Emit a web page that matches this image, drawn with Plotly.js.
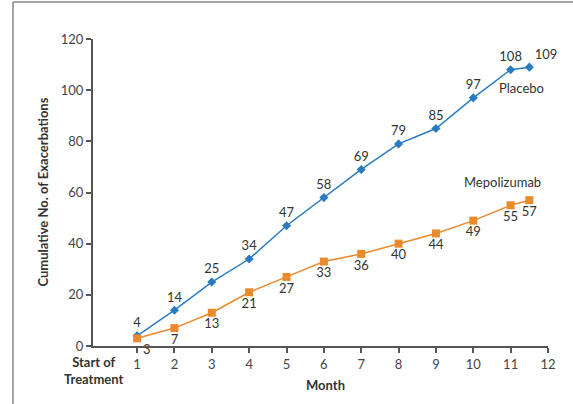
<!DOCTYPE html>
<html>
<head>
<meta charset="utf-8">
<script src="https://cdn.plot.ly/plotly-3.0.1.min.js"></script>
<style>html,body{margin:0;padding:0;background:#fff;}#chart{width:573px;height:404px;}</style>
</head>
<body>
<div id="chart"></div>
<script>
const placeboMonths = [1, 2, 3, 4, 5, 6, 7, 8, 9, 10, 11, 11.5];
const placeboValues = [4, 14, 25, 34, 47, 58, 69, 79, 85, 97, 108, 109];
const mepoMonths = [1, 2, 3, 4, 5, 6, 7, 8, 9, 10, 11, 11.5];
const mepoValues = [3, 7, 13, 21, 27, 33, 36, 40, 44, 49, 55, 57];
const xTicks = [1, 2, 3, 4, 5, 6, 7, 8, 9, 10, 11, 12];
const yTicks = [0, 20, 40, 60, 80, 100, 120];

const FONT = "Lato, Open Sans, Liberation Sans, Arial, sans-serif";
const blue = "#2b7bc0";
const orange = "#e98a2c";

const placebo = {
  x: placeboMonths, y: placeboValues, type: "scatter", mode: "lines+markers+text",
  name: "Placebo",
  line: {color: blue, width: 1.5},
  marker: {color: blue, symbol: "diamond", size: 7},
  text: placeboValues.map(String),
  textposition: placeboValues.map((v, i) => i === placeboValues.length - 1 ? "top right" : "top center"),
  textfont: {family: FONT, size: 13, color: "#333"},
  cliponaxis: false
};
const mepo = {
  x: mepoMonths, y: mepoValues, type: "scatter", mode: "lines+markers+text",
  name: "Mepolizumab",
  line: {color: orange, width: 1.5},
  marker: {color: orange, symbol: "square", size: 8},
  text: mepoValues.map(String),
  textposition: mepoValues.map((v, i) => i === 0 ? "bottom right" : "bottom center"),
  textfont: {family: FONT, size: 13, color: "#333"},
  cliponaxis: false
};

const frameX = (13 - 93) / 455;
const frameY = 1 + (39 - 2) / 307;

const layout = {
  width: 573, height: 404,
  margin: {l: 93, r: 25, t: 39, b: 58},
  paper_bgcolor: "#fff", plot_bgcolor: "#fff",
  showlegend: false,
  font: {family: FONT, size: 13, color: "#444"},
  xaxis: {
    range: [-0.18, 12], tickvals: xTicks, ticktext: xTicks.map(String),
    showgrid: false, zeroline: false, showline: true, linecolor: "#555", linewidth: 2,
    ticks: "outside", ticklen: 5, tickwidth: 2, tickcolor: "#555",
    tickfont: {family: FONT, size: 13, color: "#444"}
  },
  yaxis: {
    range: [0, 120], tickvals: yTicks, ticktext: yTicks.map(String),
    showgrid: false, zeroline: false, showline: true, linecolor: "#555", linewidth: 2,
    ticks: "outside", ticklen: 5, tickwidth: 2, tickcolor: "#555",
    tickfont: {family: FONT, size: 13, color: "#444"}
  },
  shapes: [
    {type: "line", xref: "paper", yref: "paper", x0: frameX, x1: frameX, y0: -0.3, y1: frameY,
     line: {color: "#888", width: 1.5}},
    {type: "line", xref: "paper", yref: "paper", x0: frameX, x1: 1.2, y0: frameY, y1: frameY,
     line: {color: "#888", width: 1.5}}
  ],
  annotations: [
    {text: "<b>Cumulative No. of Exacerbations</b>", xref: "paper", yref: "paper",
     x: (42 - 93) / 455, y: 0.5, xanchor: "center", yanchor: "middle", textangle: -90, showarrow: false,
     font: {family: FONT, size: 13, color: "#333"}},
    {text: "<b>Month</b>", xref: "paper", yref: "paper", x: (325 - 93) / 455, y: (346 - 385) / 307,
     xanchor: "center", yanchor: "middle",
     showarrow: false, font: {family: FONT, size: 13, color: "#333"}},
    {text: "<b>Start of<br>Treatment</b>", xref: "x", yref: "paper", x: -0.15, y: (346 - 370) / 307,
     xanchor: "center", yanchor: "middle",
     showarrow: false, align: "center", font: {family: FONT, size: 13, color: "#333"}},
    {text: "Placebo", xref: "x", yref: "y", x: 11.3, y: 101, xanchor: "center", yanchor: "middle", showarrow: false,
     font: {family: FONT, size: 13, color: "#333"}},
    {text: "Mepolizumab", xref: "x", yref: "y", x: 10.77, y: 64, xanchor: "center", yanchor: "middle", showarrow: false,
     font: {family: FONT, size: 13, color: "#333"}}
  ]
};

Plotly.newPlot("chart", [placebo, mepo], layout, {displayModeBar: false, staticPlot: true});
</script>
</body>
</html>
